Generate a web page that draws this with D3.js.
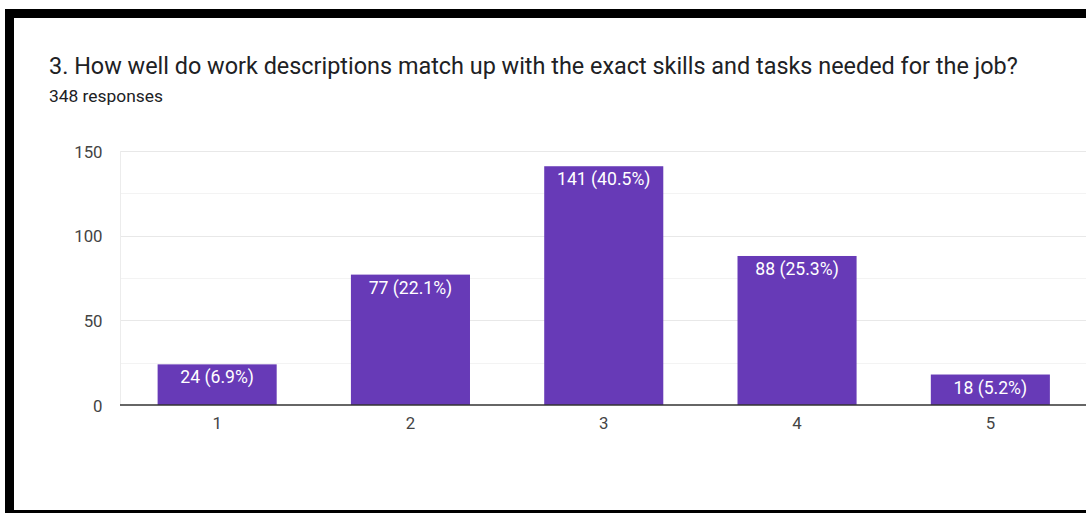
<!DOCTYPE html>
<html><head><meta charset="utf-8">
<script src="https://cdn.jsdelivr.net/npm/d3@7"></script>
<style>
html,body{margin:0;padding:0;background:#fff;overflow:hidden;}
svg{display:block;font-family:Roboto, Arial, sans-serif;}
</style></head>
<body>
<svg id="c" width="1086" height="513"></svg>
<script>
const categories = ["1","2","3","4","5"];
const counts = [24, 77, 141, 88, 18];
const percents = ["6.9%","22.1%","40.5%","25.3%","5.2%"];
const yTicks = [0, 50, 100, 150];
const minorTicks = [25, 75, 125];
const title = "3. How well do work descriptions match up with the exact skills and tasks needed for the job?";
const subtitle = "348 responses";

const svg = d3.select("#c");
const W = 1086, H = 513;

// frame
svg.append("rect").attr("x",0).attr("y",0).attr("width",W).attr("height",H).attr("fill","#fff");
svg.append("rect").attr("x",5).attr("y",9).attr("width",W-5).attr("height",H-9).attr("fill","#000");
svg.append("rect").attr("x",14).attr("y",18).attr("width",W-14).attr("height",492).attr("fill","#fff");

const t = svg.append("text").attr("x",49).attr("y",73.5).attr("font-size",23.2).attr("fill","#202124").text(title);
// fit title to measured width in reference
const tw = t.node().getComputedTextLength();
t.attr("font-size", 23.2 * 969 / tw);
const s = svg.append("text").attr("x",49).attr("y",101.5).attr("font-size",17.2).attr("fill","#202124").text(subtitle);
const sw = s.node().getComputedTextLength();
s.attr("font-size", 17.2 * 114 / sw);

const x = d3.scaleBand().domain(categories).range([120.5, 1087]).paddingInner(0.384).paddingOuter(0.192);
const y = d3.scaleLinear().domain([0,150]).range([405, 151]);

const g = svg.append("g");
// minor gridlines
g.selectAll("line.minor").data(minorTicks).join("line")
  .attr("x1",120).attr("x2",W).attr("y1",d=>Math.round(y(d))+0.5).attr("y2",d=>Math.round(y(d))+0.5)
  .attr("stroke","#f3f3f3").attr("stroke-width",1);
// major gridlines
g.selectAll("line.major").data(yTicks.filter(d=>d>0)).join("line")
  .attr("x1",120).attr("x2",W).attr("y1",d=>Math.round(y(d))+0.5).attr("y2",d=>Math.round(y(d))+0.5)
  .attr("stroke","#e8e8e8").attr("stroke-width",1);
// left vertical grid
g.append("line").attr("x1",120.5).attr("x2",120.5).attr("y1",y(150)).attr("y2",y(0))
  .attr("stroke","#ececec");

// y axis labels
const yAxis = d3.axisLeft(y).tickValues(yTicks).tickSize(0).tickPadding(17.5);
const ya = svg.append("g").attr("transform","translate(120,0)").call(yAxis);
ya.select(".domain").remove();
ya.selectAll("text").attr("font-size",16.8).attr("fill","#444").attr("font-family","Roboto, Arial, sans-serif").attr("dy","0.36em");

// bars
g.selectAll("rect.bar").data(counts).join("rect")
  .attr("x",(d,i)=>x(categories[i])).attr("width",x.bandwidth())
  .attr("y",d=>y(d)).attr("height",d=>y(0)-y(d))
  .attr("fill","#673ab7");
g.selectAll("text.lbl").data(counts).join("text")
  .attr("x",(d,i)=>x(categories[i])+x.bandwidth()/2)
  .attr("y",d=>y(d)+19)
  .attr("text-anchor","middle").attr("font-size",17.6).attr("fill","#fff")
  .text((d,i)=>`${d} (${percents[i]})`);

// x axis
const xAxis = d3.axisBottom(x).tickSize(0).tickPadding(12.5);
const xa = svg.append("g").attr("transform","translate(0,405)").call(xAxis);
xa.select(".domain").attr("stroke","#333").attr("stroke-width",1.5).attr("d",`M120,0H${W}`);
xa.selectAll("text").attr("font-size",16.8).attr("fill","#444").attr("font-family","Roboto, Arial, sans-serif");
</script>
</body></html>
